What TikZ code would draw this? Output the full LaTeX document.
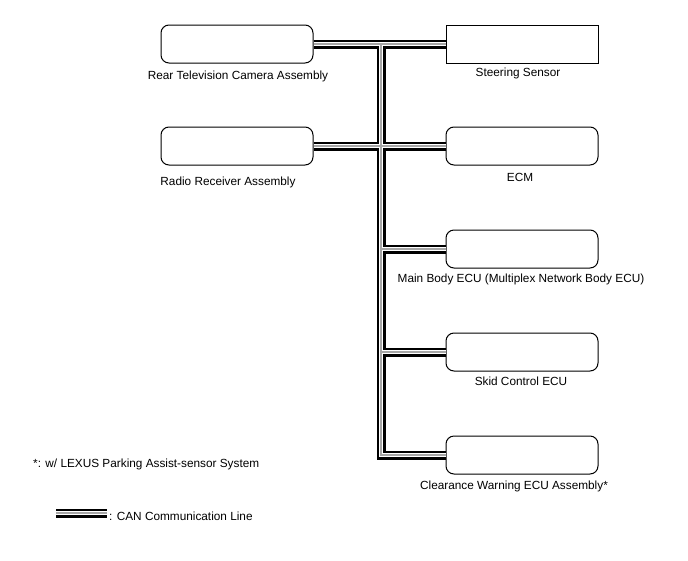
\documentclass[tikz,border=0pt]{standalone}
\usepackage{fontspec}
\setmainfont{Liberation Sans}
\begin{document}
\begin{tikzpicture}[x=1pt,y=-1pt,
  box/.style={draw,line width=1pt,rounded corners=8pt,minimum width=152pt,minimum height=38pt,inner sep=0pt},
  sqbox/.style={draw,line width=1pt,minimum width=152pt,minimum height=38pt,inner sep=0pt},
  lbl/.style={font=\fontsize{11.8}{14}\selectfont,inner sep=0pt},
  can/.style={draw=black,line width=9pt,
    postaction={draw=white,line width=4.8pt},
    postaction={draw=gray!70,line width=1.2pt}}]
\useasboundingbox (0,0) rectangle (688,560);
\node[box]   (rear)  at (237,44)  {};
\node[box]   (radio) at (237,146) {};
\node[sqbox] (steer) at (522,44)  {};
\node[box]   (ecm)   at (522,146) {};
\node[box]   (mbody) at (522,249) {};
\node[box]   (skid)  at (522,352) {};
\node[box]   (clear) at (522,455) {};
\node[lbl] (lrear)  at (238,76)  {Rear Television Camera Assembly};
\node[lbl] (lradio) at (228,182) {Radio Receiver Assembly};
\node[lbl] (lsteer) at (518,73)  {Steering Sensor};
\node[lbl] (lecm)   at (520,177) {ECM};
\node[lbl] (lmbody) at (521,279) {Main Body ECU (Multiplex Network Body ECU)};
\node[lbl] (lskid)  at (521,381) {Skid Control ECU};
\node[lbl] (lclear) at (514,486) {Clearance Warning ECU Assembly*};
\node[lbl,anchor=west] (note) at (33,464) {*: w/ LEXUS Parking Assist-sensor System};
\coordinate (t1) at (381,44);
\coordinate (l1) at (56,513);
\coordinate (l2) at (107,513);
\node[lbl,anchor=west] (legend) at (109,516) {: CAN Communication Line};
\path[can] (rear.east) -- (steer.west)
  (radio.east) -- (ecm.west)
  (t1) -- (t1 |- clear.west) -- (clear.west)
  (t1 |- mbody.west) -- (mbody.west)
  (t1 |- skid.west) -- (skid.west)
  (l1) -- (l2);
\end{tikzpicture}
\end{document}
